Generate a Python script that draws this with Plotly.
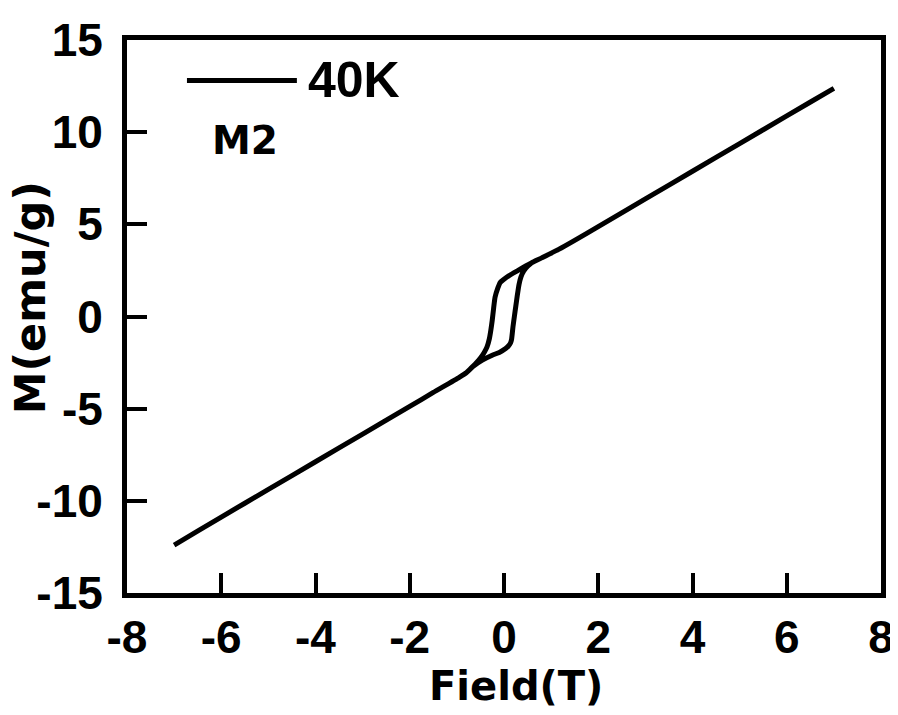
import plotly.graph_objects as go

# Descending branch (field swept from +7 T to -7 T)
field_down = [7.0, 6.0, 5.0, 4.0, 3.0, 2.0, 1.5, 1.16, 0.8, 0.59, 0.46, 0.3, 0.1, 0.0,
              -0.08, -0.13, -0.19, -0.22, -0.25, -0.28, -0.31, -0.36, -0.42, -0.5, -0.6,
              -0.7, -0.8, -0.95, -1.5, -2.0, -3.0, -4.0, -5.0, -6.0, -7.0]
m_down = [12.38, 10.88, 9.38, 7.88, 6.38, 4.88, 4.13, 3.64, 3.18, 2.92, 2.74, 2.5, 2.2, 2.02,
          1.85, 1.55, 1.04, 0.45, -0.21, -0.75, -1.2, -1.65, -1.95, -2.25, -2.55,
          -2.8, -3.05, -3.3, -4.12, -4.88, -6.38, -7.88, -9.38, -10.88, -12.4]

# Ascending branch (field swept from -7 T to +7 T)
field_up = [-7.0, -6.0, -5.0, -4.0, -3.0, -2.0, -1.5, -0.95, -0.8, -0.66, -0.46, -0.25,
            -0.1, 0.035, 0.1, 0.14, 0.16, 0.19, 0.22, 0.25, 0.28, 0.32, 0.36, 0.42, 0.5,
            0.59, 0.8, 1.16, 1.5, 2.0, 3.0, 4.0, 5.0, 6.0, 7.0]
m_up = [-12.4, -10.88, -9.38, -7.88, -6.38, -4.88, -4.12, -3.3, -3.05, -2.72, -2.37, -2.1,
        -1.95, -1.74, -1.58, -1.42, -1.25, -0.57, 0.0, 0.55, 1.1, 1.75, 2.15, 2.47, 2.72,
        2.92, 3.18, 3.64, 4.13, 4.88, 6.38, 7.88, 9.38, 10.88, 12.38]

x_ticks = [-8, -6, -4, -2, 0, 2, 4, 6, 8]
y_ticks = [-15, -10, -5, 0, 5, 10, 15]

FONT = "Liberation Sans, Arial, sans-serif"
WIDE = "DejaVu Sans, sans-serif"

# page body has an 8px default margin; lay out in window pixels, then offset
OFF = 8
FIG_W, FIG_H = 898 - OFF, 715 - 2 * OFF
L, R, T, B = 127, 881.5, 39.5, 593
W, H = R - L, B - T


def px(x):
    return (x - L) / W


def py(y):
    return (B - y) / H


fig = go.Figure()
fig.add_trace(go.Scatter(x=field_down + field_up[1:], y=m_down + m_up[1:], mode="lines",
                         name="40K", line=dict(color="black", width=5, shape="spline", smoothing=0.5),
                         showlegend=False))

axis_common = dict(showline=True, linewidth=5, linecolor="black", mirror=True,
                   ticks="inside", ticklen=20, tickwidth=4, tickcolor="black",
                   showgrid=False, zeroline=False, automargin=False,
                   tickfont=dict(family=FONT, size=46, color="black", weight="bold"))

fig.update_xaxes(range=[-8, 8], tickvals=x_ticks, ticktext=[str(v) for v in x_ticks],
                 ticklabelstandoff=0, **axis_common)
fig.update_yaxes(range=[-15, 15], tickvals=y_ticks, ticktext=[str(v) for v in y_ticks],
                 ticklabelstandoff=10, **axis_common)

# legend sample and labels
fig.add_shape(type="line", xref="paper", yref="paper",
              x0=px(187), x1=px(297), y0=py(80), y1=py(80),
              line=dict(color="black", width=5))
fig.add_annotation(text="40K", xref="paper", yref="paper",
                   x=px(306), y=py(80), xanchor="left", yanchor="middle",
                   showarrow=False, font=dict(family=FONT, size=50, color="black", weight="bold"))
fig.add_annotation(text="M2", xref="paper", yref="paper",
                   x=px(245), y=py(140), xanchor="center", yanchor="middle",
                   showarrow=False, font=dict(family=WIDE, size=39, color="black", weight="bold"))

# axis titles
fig.add_annotation(text="Field(T)", xref="paper", yref="paper",
                   x=px(516), y=py(686), xanchor="center", yanchor="middle",
                   showarrow=False, borderpad=0,
                   font=dict(family=WIDE, size=40, color="black", weight="bold"))
fig.add_annotation(text="M(emu/g)", xref="paper", yref="paper", textangle=-90,
                   x=px(30), y=py(298), xanchor="center", yanchor="middle",
                   showarrow=False, borderpad=0,
                   font=dict(family=WIDE, size=43, color="black", weight="bold"))

fig.update_layout(width=FIG_W, height=FIG_H,
                  margin=dict(l=L - OFF, r=FIG_W - (R - OFF), t=T - OFF, b=FIG_H - (B - OFF)),
                  plot_bgcolor="white", paper_bgcolor="white")

fig.write_html("out.html")
